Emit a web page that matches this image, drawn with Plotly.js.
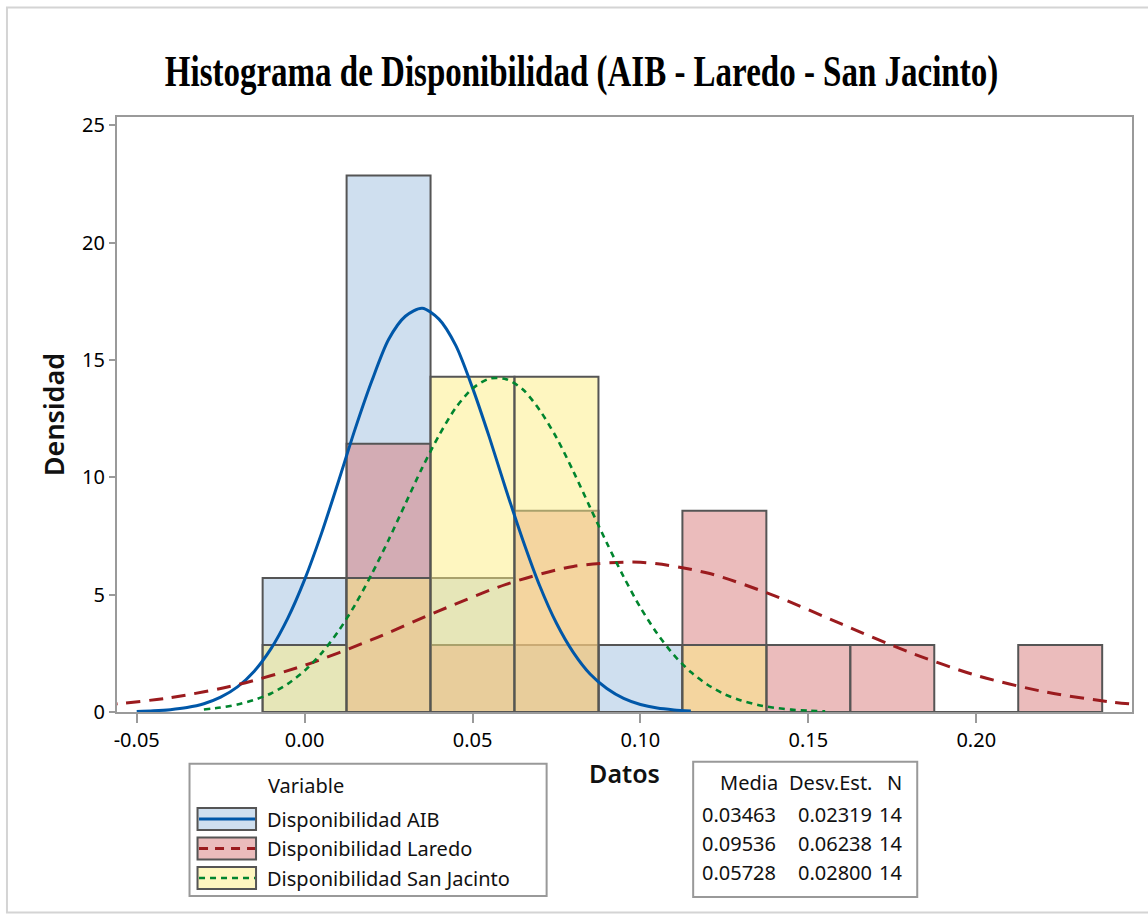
<!DOCTYPE html>
<html>
<head>
<meta charset="utf-8">
<script src="https://cdn.plot.ly/plotly-3.0.1.min.js"></script>
<style>html,body{margin:0;padding:0;background:#fff;}#chart{width:1148px;height:917px;}</style>
</head>
<body>
<div id="chart"></div>
<script>
// ---------- data ----------
const seriesNames = ["Disponibilidad AIB", "Disponibilidad Laredo", "Disponibilidad San Jacinto"];
const binWidth = 0.025;
const nObs = 14;

const aibBins = [0, 0.025, 0.05, 0.075, 0.1];
const aibCounts = [2, 8, 2, 1, 1];

const laredoBins = [0.025, 0.05, 0.075, 0.1, 0.125, 0.15, 0.175, 0.2, 0.225];
const laredoCounts = [4, 1, 3, 0, 3, 1, 1, 0, 1];

const sjBins = [0, 0.025, 0.05, 0.075, 0.1, 0.125];
const sjCounts = [1, 2, 5, 5, 0, 1];

// fitted normal curves
const aibCurveX = [-0.05, -0.045, -0.04, -0.035, -0.03, -0.025, -0.02, -0.015, -0.01, -0.005, 0.00, 0.005, 0.01, 0.015, 0.02, 0.025, 0.03, 0.035, 0.04, 0.045, 0.05, 0.055, 0.06, 0.065, 0.07, 0.075, 0.08, 0.085, 0.09, 0.095, 0.10, 0.105, 0.11, 0.115];
const aibCurveY = [0.02, 0.05, 0.10, 0.19, 0.35, 0.63, 1.07, 1.74, 2.70, 4.00, 5.64, 7.60, 9.79, 12.04, 14.10, 15.87, 16.86, 17.20, 16.74, 15.62, 13.81, 11.71, 9.46, 7.32, 5.38, 3.78, 2.54, 1.62, 1.00, 0.58, 0.32, 0.17, 0.09, 0.04];

const laredoCurveX = [-0.06, -0.04, -0.02, 0.00, 0.02, 0.04, 0.06, 0.08, 0.10, 0.12, 0.14, 0.16, 0.18, 0.20, 0.22, 0.24, 0.26];
const laredoCurveY = [0.29, 0.61, 1.16, 1.99, 3.08, 4.31, 5.44, 6.20, 6.38, 5.92, 4.95, 3.74, 2.55, 1.56, 0.87, 0.43, 0.19];

const sjCurveX = [-0.03, -0.025, -0.02, -0.015, -0.01, -0.005, 0.00, 0.005, 0.01, 0.015, 0.02, 0.025, 0.03, 0.035, 0.04, 0.045, 0.05, 0.055, 0.06, 0.065, 0.07, 0.075, 0.08, 0.085, 0.09, 0.095, 0.10, 0.105, 0.11, 0.115, 0.12, 0.125, 0.13, 0.135, 0.14, 0.145, 0.15, 0.155];
const sjCurveY = [0.11, 0.19, 0.32, 0.52, 0.79, 1.20, 1.76, 2.50, 3.43, 4.56, 5.88, 7.33, 8.87, 10.40, 11.78, 12.96, 13.78, 14.20, 14.18, 13.74, 12.86, 11.69, 10.26, 8.72, 7.20, 5.76, 4.45, 3.34, 2.42, 1.70, 1.16, 0.76, 0.49, 0.30, 0.18, 0.10, 0.06, 0.03];

const statHeaders = ["Media", "Desv.Est.", "N"];
const statMedia = ["0.03463", "0.09536", "0.05728"];
const statDesv = ["0.02319", "0.06238", "0.02800"];
const statN = ["14", "14", "14"];

const xTickVals = [-0.05, 0.00, 0.05, 0.10, 0.15, 0.20];
const xTickText = ["-0.05", "0.00", "0.05", "0.10", "0.15", "0.20"];
const yTickVals = [0, 5, 10, 15, 20, 25];

// ---------- styles ----------
const fills = ["rgba(159,191,223,0.5)", "rgba(215,121,121,0.5)", "rgba(253,237,129,0.5)"];
const lineCols = ["#0057A8", "#9B1B1E", "#00852E"];
const lineDash = ["solid", "14px,9px", "6px,5px"];
const lineW = [3, 3, 2.6];
const barEdge = "#555555";
const fontSans = "Noto Sans, Open Sans, sans-serif";

const dens = c => c.map(v => v / (nObs * binWidth));

function barTrace(x, counts, i) {
  return {
    type: "bar", x: x, y: dens(counts), width: binWidth, name: seriesNames[i],
    marker: {color: fills[i], line: {color: barEdge, width: 2}},
    showlegend: false, hoverinfo: "skip"
  };
}
function curveTrace(x, y, i) {
  return {
    type: "scatter", mode: "lines", x: x, y: y, name: seriesNames[i],
    line: {color: lineCols[i], width: lineW[i], dash: lineDash[i], shape: "spline", smoothing: 0.8},
    showlegend: false, hoverinfo: "skip", cliponaxis: true
  };
}

const data = [
  barTrace(aibBins, aibCounts, 0),
  barTrace(laredoBins, laredoCounts, 1),
  barTrace(sjBins, sjCounts, 2),
  curveTrace(aibCurveX, aibCurveY, 0),
  curveTrace(laredoCurveX, laredoCurveY, 1),
  curveTrace(sjCurveX, sjCurveY, 2)
];

// pixel helpers for paper-referenced legend boxes
const L = 117, R = 1131.7, T = 116.7, B = 712.3;
const px = x => (x - L) / (R - L);
const py = y => (B - y) / (B - T);

const shapes = [];
const annotations = [];
const txtFont = {family: fontSans, size: 20, color: "#111"};

// outer light frame
shapes.push({type: "rect", xref: "paper", yref: "paper", x0: px(7), x1: px(1170), y0: py(7), y1: py(913),
  line: {color: "#d4d4d4", width: 2}, fillcolor: "rgba(0,0,0,0)", layer: "below"});

// legend box (left)
shapes.push({type: "rect", xref: "paper", yref: "paper", x0: px(189.5), x1: px(546.5), y0: py(764), y1: py(896.5),
  line: {color: "#999999", width: 2}, fillcolor: "white"});
annotations.push({xref: "paper", yref: "paper", x: px(266), y: py(786), xanchor: "left", yanchor: "middle",
  text: "Variable", showarrow: false, font: txtFont});
const rowY = [819.5, 849, 878.5];
for (let i = 0; i < 3; i++) {
  shapes.push({type: "rect", xref: "paper", yref: "paper", x0: px(197.5), x1: px(256), y0: py(rowY[i] - 11), y1: py(rowY[i] + 11),
    line: {color: barEdge, width: 2}, fillcolor: fills[i]});
  shapes.push({type: "line", xref: "paper", yref: "paper", x0: px(199), x1: px(255), y0: py(rowY[i]), y1: py(rowY[i]),
    line: {color: lineCols[i], width: lineW[i], dash: i === 0 ? "solid" : (i === 1 ? "9px,7px" : "6px,5px")}});
  annotations.push({xref: "paper", yref: "paper", x: px(265), y: py(rowY[i]), xanchor: "left", yanchor: "middle",
    text: seriesNames[i], showarrow: false, font: txtFont});
}

// stats box (right)
shapes.push({type: "rect", xref: "paper", yref: "paper", x0: px(693), x1: px(917), y0: py(762), y1: py(897.5),
  line: {color: "#999999", width: 2}, fillcolor: "white"});
const colRight = [780, 874, 904];
const statRowY = [783, 815, 844, 873];
for (let c = 0; c < 3; c++) {
  annotations.push({xref: "paper", yref: "paper", x: px(colRight[c]), y: py(statRowY[0]), xanchor: "right", yanchor: "middle",
    text: statHeaders[c], showarrow: false, font: txtFont});
}
const cols = [statMedia, statDesv, statN];
for (let r = 0; r < 3; r++) {
  for (let c = 0; c < 3; c++) {
    annotations.push({xref: "paper", yref: "paper", x: px(c === 0 ? 778 : colRight[c]), y: py(statRowY[r + 1]), xanchor: "right", yanchor: "middle",
      text: cols[c][r], showarrow: false, font: txtFont});
  }
}

const titleCx = 581.5, titleCy = 71;
const layout = {
  width: 1148, height: 917,
  margin: {l: L, r: 1148 - R, t: T, b: 917 - B, pad: 0},
  paper_bgcolor: "white", plot_bgcolor: "white",
  barmode: "overlay", bargap: 0,
  showlegend: false,
  title: {text: "<b>Histograma de Disponibilidad (AIB - Laredo - San Jacinto)</b>",
    x: titleCx / 1148, xanchor: "center", y: 1 - titleCy / 917, yanchor: "middle",
    font: {family: "Liberation Serif, Times New Roman, serif", size: 44, color: "#000"}},
  xaxis: {
    range: [-0.05587, 0.24638], tickvals: xTickVals, ticktext: xTickText,
    showgrid: false, zeroline: false, showline: true, mirror: true, linecolor: "#9a9a9a", linewidth: 2,
    ticks: "outside", ticklen: 9, tickwidth: 2, tickcolor: "#9a9a9a",
    tickfont: {family: fontSans, size: 20, color: "#000"},
    title: {text: "Datos", standoff: 13, font: {family: fontSans, size: 25, color: "#111", weight: 600}}
  },
  yaxis: {
    range: [0, 25.35], tickvals: yTickVals,
    showgrid: false, zeroline: false, showline: true, mirror: true, linecolor: "#9a9a9a", linewidth: 2,
    ticks: "outside", ticklen: 6, tickwidth: 2, tickcolor: "#9a9a9a",
    tickfont: {family: fontSans, size: 20, color: "#000"},
    title: {text: "Densidad", standoff: 10, font: {family: fontSans, size: 27, color: "#111", weight: 600}}
  },
  shapes: shapes,
  annotations: annotations
};

Plotly.newPlot("chart", data, layout, {displayModeBar: false, staticPlot: true}).then(function () {
  // condense the serif title horizontally, as in the reference
  const t = document.querySelector("#chart .gtitle");
  if (t) {
    t.setAttribute("transform", "translate(" + titleCx + ",0) scale(0.75,1) translate(" + (-titleCx) + ",0)");
  }
});
</script>
</body>
</html>
